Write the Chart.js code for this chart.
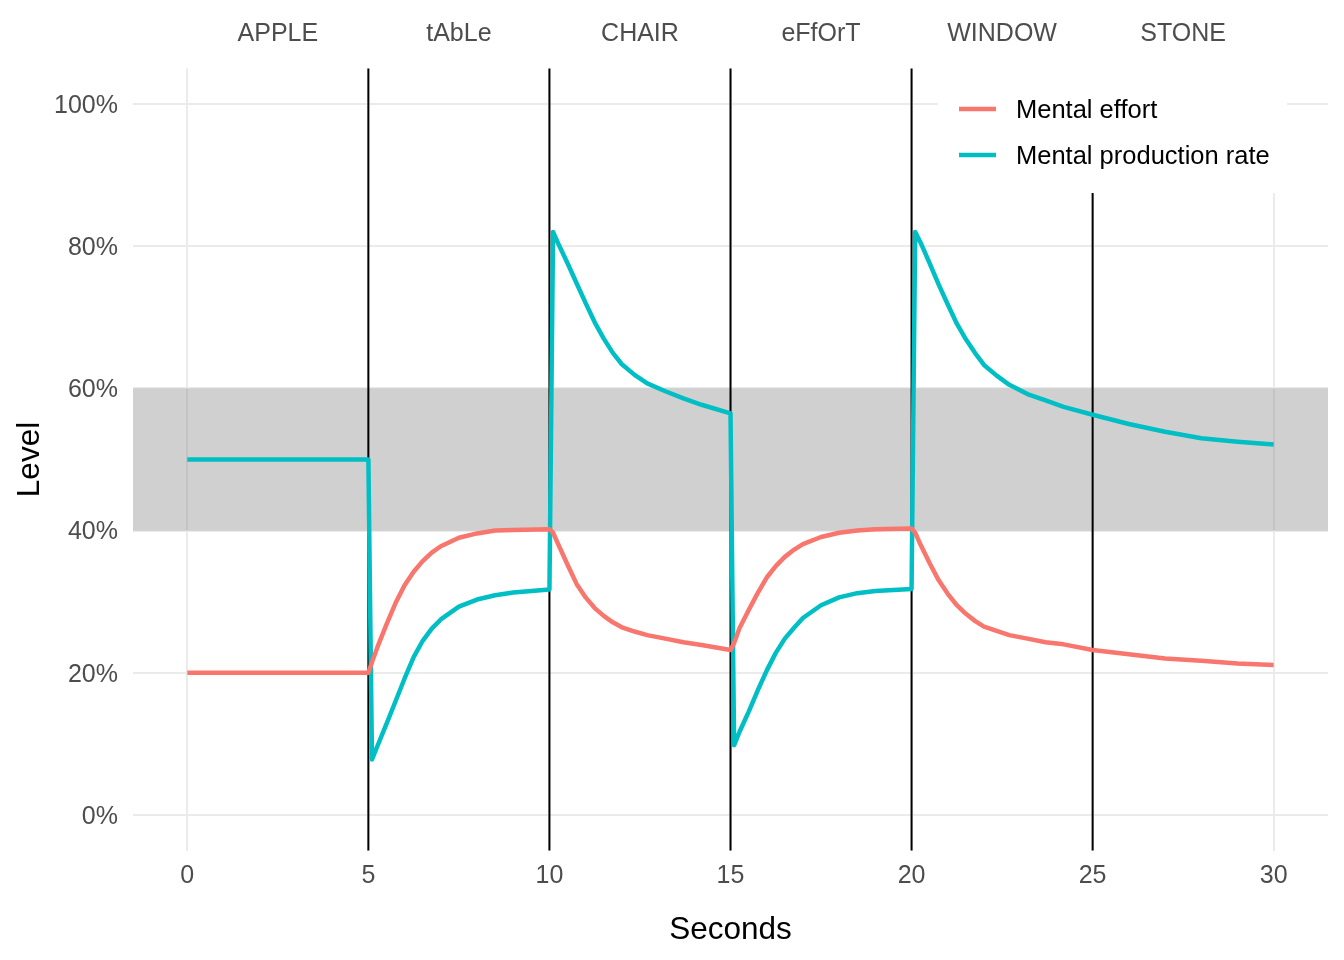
<!DOCTYPE html>
<html>
<head>
<meta charset="utf-8">
<script src="https://cdn.jsdelivr.net/npm/chart.js@4"></script>
<style>
  body { margin: 0; background: #fff; }
  #wrap { width: 1344px; height: 960px; position: relative; }
</style>
</head>
<body>
<div id="wrap"><canvas id="levelChart"></canvas></div>
<script>
// time points (seconds) shared by both series
const seconds = [0, 5,
    5.1, 5.25, 5.5, 5.75, 6, 6.25, 6.5, 6.75, 7, 7.5, 8, 8.5, 9, 10,
    10.1, 10.25, 10.5, 10.75, 11, 11.25, 11.5, 11.75, 12, 12.35, 12.7, 13.2, 13.7, 14.2, 15,
    15.1, 15.25, 15.5, 15.75, 16, 16.25, 16.5, 16.75, 17, 17.5, 18, 18.5, 19, 20,
    20.1, 20.25, 20.5, 20.75, 21, 21.25, 21.5, 21.75, 22, 22.35, 22.7, 23.2, 23.7, 24.2, 25,
    26, 27, 28, 29, 30];

// values (%)
const mentalEffort = [20, 20,
    21.5, 23.6, 26.8, 29.8, 32.3, 34.2, 35.7, 36.9, 37.8, 39.0, 39.6, 40.0, 40.1, 40.2,
    39.7, 38.0, 35.2, 32.5, 30.6, 29.1, 28.0, 27.1, 26.4, 25.8, 25.3, 24.8, 24.3, 23.9, 23.2,
    24.2, 26.3, 28.8, 31.2, 33.4, 35.0, 36.3, 37.3, 38.1, 39.1, 39.7, 40.0, 40.2, 40.3,
    39.7, 38.0, 35.4, 33.0, 31.1, 29.5, 28.3, 27.3, 26.5, 25.9, 25.3, 24.8, 24.3, 24.0, 23.2,
    22.6, 22.0, 21.7, 21.3, 21.1];
const productionRate = [50, 50,
    7.8, 9.7, 12.8, 16.0, 19.2, 22.2, 24.5, 26.2, 27.5, 29.3, 30.3, 30.9, 31.3, 31.7,
    82, 80.3, 77.6, 74.8, 72.0, 69.3, 67.0, 65.0, 63.4, 61.9, 60.7, 59.6, 58.6, 57.7, 56.5,
    9.8, 11.7, 14.5, 17.5, 20.3, 22.8, 24.8, 26.3, 27.7, 29.5, 30.6, 31.2, 31.5, 31.8,
    82, 80.5, 77.6, 74.6, 71.8, 69.1, 66.9, 65.0, 63.3, 61.8, 60.5, 59.2, 58.3, 57.4, 56.3,
    55.0, 53.9, 53.0, 52.5, 52.1];

const xTicks = [0, 5, 10, 15, 20, 25, 30];
const yTicks = [0, 20, 40, 60, 80, 100];
const wordPositions = [2.5, 7.5, 12.5, 17.5, 22.5, 27.5];
const wordLabels = ['APPLE', 'tAbLe', 'CHAIR', 'eFfOrT', 'WINDOW', 'STONE'];
const wordSwitches = [5, 10, 15, 20, 25];
const band = [40, 60];
const seriesNames = ['Mental effort', 'Mental production rate'];
const seriesColors = ['#F8766D', '#00BFC4'];

const FONT = "'Liberation Sans', Arial, Helvetica, sans-serif";

// grey band + black lines where the word changes
const backdrop = {
    id: 'backdrop',
    beforeDatasetsDraw(chart) {
        const { ctx, chartArea, scales } = chart;
        ctx.save();
        const yTop = scales.y.getPixelForValue(band[1]);
        const yBot = scales.y.getPixelForValue(band[0]);
        ctx.fillStyle = 'rgba(127,127,127,0.37)';
        ctx.fillRect(chartArea.left, yTop, chartArea.right - chartArea.left, yBot - yTop);

        ctx.strokeStyle = '#000';
        ctx.lineWidth = 2;
        wordSwitches.forEach(s => {
            const x = scales.x.getPixelForValue(s);
            ctx.beginPath();
            ctx.moveTo(x, chartArea.top);
            ctx.lineTo(x, chartArea.bottom);
            ctx.stroke();
        });
        ctx.restore();
    }
};

// ggplot style legend with white background inside the panel
const boxLegend = {
    id: 'boxLegend',
    afterDatasetsDraw(chart) {
        const { ctx, chartArea } = chart;
        const left = chartArea.right - 390;
        ctx.save();
        ctx.fillStyle = '#fff';
        ctx.fillRect(left, chartArea.top - 2, 349, 195 - chartArea.top);
        ctx.font = '25.5px ' + FONT;
        ctx.textBaseline = 'middle';
        ctx.lineWidth = 4.5;
        seriesNames.forEach((name, i) => {
            const y = 109 + i * 46;
            ctx.strokeStyle = seriesColors[i];
            ctx.beginPath();
            ctx.moveTo(left + 21, y);
            ctx.lineTo(left + 58, y);
            ctx.stroke();
            ctx.fillStyle = '#000';
            ctx.fillText(name, left + 78, y + 2);
        });
        ctx.restore();
    }
};

const ctx = document.getElementById('levelChart').getContext('2d');

new Chart(ctx, {
    type: 'line',
    data: {
        datasets: [mentalEffort, productionRate].map((vals, i) => ({
            label: seriesNames[i],
            data: seconds.map((t, j) => ({ x: t, y: vals[j] })),
            borderColor: seriesColors[i],
            backgroundColor: seriesColors[i],
            borderWidth: 4.5,
            pointRadius: 0,
            borderJoinStyle: 'round',
            tension: 0,
            fill: false
        }))
    },
    options: {
        responsive: true,
        maintainAspectRatio: false,
        animation: false,
        layout: { padding: { left: 0, right: 16, top: 0, bottom: 0 } },
        plugins: {
            legend: { display: false },
            tooltip: { enabled: false }
        },
        scales: {
            x: {
                type: 'linear',
                position: 'bottom',
                min: -1.5,
                max: 31.5,
                afterBuildTicks: scale => { scale.ticks = xTicks.map(v => ({ value: v })); },
                afterFit: scale => { scale.height = 109.5; },
                border: { display: false },
                grid: { color: '#EBEBEB', lineWidth: 2, drawTicks: false },
                ticks: {
                    padding: 11,
                    color: '#4D4D4D',
                    font: { family: FONT, size: 25 },
                    maxRotation: 0,
                    callback: v => String(v)
                },
                title: {
                    display: true,
                    text: 'Seconds',
                    color: '#000',
                    font: { family: FONT, size: 31.5 },
                    padding: { top: 0, bottom: 11 }
                }
            },
            words: {
                type: 'linear',
                position: 'top',
                min: -1.5,
                max: 31.5,
                afterBuildTicks: scale => { scale.ticks = wordPositions.map(v => ({ value: v })); },
                afterFit: scale => { scale.height = 68.5; },
                border: { display: false },
                grid: { display: false, drawTicks: false },
                ticks: {
                    padding: 19,
                    color: '#4D4D4D',
                    font: { family: FONT, size: 25 },
                    maxRotation: 0,
                    callback: v => wordLabels[wordPositions.indexOf(v)]
                }
            },
            y: {
                min: -5,
                max: 105,
                afterBuildTicks: scale => { scale.ticks = yTicks.map(v => ({ value: v })); },
                afterFit: scale => { scale.width = 133; },
                border: { display: false },
                grid: { color: '#EBEBEB', lineWidth: 2, drawTicks: false },
                ticks: {
                    padding: 15,
                    labelOffset: 2,
                    color: '#4D4D4D',
                    font: { family: FONT, size: 25 },
                    callback: v => v + '%'
                },
                title: {
                    display: true,
                    text: 'Level',
                    color: '#000',
                    font: { family: FONT, size: 31.5 },
                    padding: { top: 11, bottom: 0 }
                }
            }
        }
    },
    plugins: [backdrop, boxLegend]
});
</script>
</body>
</html>
